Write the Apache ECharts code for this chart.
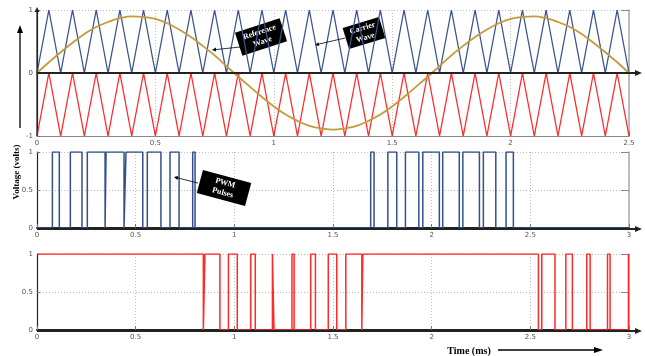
<!DOCTYPE html>
<html>
<head>
<meta charset="utf-8">
<script src="https://cdn.jsdelivr.net/npm/echarts@6/dist/echarts.min.js"></script>
<style>
  html, body { margin: 0; padding: 0; background: #fff; }
  #chart { width: 645px; height: 356px; }
</style>
</head>
<body>
<div id="chart"></div>
<script>
// top panel: carrier + reference waves (time in ms)
var topTime = [0, 0.05, 0.1, 0.15, 0.2, 0.25, 0.3, 0.35, 0.4, 0.45, 0.5, 0.55, 0.6, 0.65, 0.7, 0.75, 0.8, 0.85, 0.9, 0.95,
  1, 1.05, 1.1, 1.15, 1.2, 1.25, 1.3, 1.35, 1.4, 1.45, 1.5, 1.55, 1.6, 1.65, 1.7, 1.75, 1.8, 1.85, 1.9, 1.95,
  2, 2.05, 2.1, 2.15, 2.2, 2.25, 2.3, 2.35, 2.4, 2.45, 2.5];
var carrierUpper = [0, 1, 0, 1, 0, 1, 0, 1, 0, 1, 0, 1, 0, 1, 0, 1, 0, 1, 0, 1, 0, 1, 0, 1, 0, 1,
  0, 1, 0, 1, 0, 1, 0, 1, 0, 1, 0, 1, 0, 1, 0, 1, 0, 1, 0, 1, 0, 1, 0, 1, 0];
var carrierLower = [-1, 0, -1, 0, -1, 0, -1, 0, -1, 0, -1, 0, -1, 0, -1, 0, -1, 0, -1, 0, -1, 0, -1, 0, -1, 0,
  -1, 0, -1, 0, -1, 0, -1, 0, -1, 0, -1, 0, -1, 0, -1, 0, -1, 0, -1, 0, -1, 0, -1, 0, -1];
var referenceWave = [0, 0.17, 0.33, 0.48, 0.62, 0.73, 0.81, 0.87, 0.90, 0.89, 0.86, 0.79, 0.69, 0.57, 0.43, 0.28, 0.11,
  -0.06, -0.22, -0.38, -0.53, -0.66, -0.76, -0.84, -0.88, -0.90, -0.88, -0.84, -0.76, -0.66, -0.53, -0.38, -0.22, -0.06,
  0.11, 0.28, 0.43, 0.57, 0.69, 0.79, 0.86, 0.89, 0.90, 0.87, 0.81, 0.73, 0.62, 0.48, 0.33, 0.17, 0];

// PWM pulses: switching instants (ms) and level after each switch
var pwmUpperTime = [0, 0.078, 0.113, 0.169, 0.228, 0.255, 0.345, 0.350, 0.441, 0.451, 0.536, 0.559, 0.628, 0.674, 0.720,
  0.789, 0.801, 1.691, 1.708, 1.778, 1.823, 1.867, 1.935, 1.955, 2.039, 2.056, 2.140, 2.158, 2.242, 2.262, 2.325,
  2.377, 2.414, 3];
var pwmUpperLevel = [0, 1, 0, 1, 0, 1, 0, 1, 0, 1, 0, 1, 0, 1, 0, 1, 0, 1, 0, 1, 0, 1, 0, 1, 0, 1, 0, 1, 0, 1, 0, 1, 0, 0];
var pwmLowerTime = [0, 0.843, 0.851, 0.927, 0.970, 1.015, 1.083, 1.106, 1.193, 1.201, 1.292, 1.303, 1.387, 1.411, 1.476,
  1.519, 1.565, 1.646, 1.651, 2.541, 2.558, 2.625, 2.680, 2.713, 2.786, 2.803, 2.891, 2.904, 2.997, 3];
var pwmLowerLevel = [1, 0, 1, 0, 1, 0, 1, 0, 1, 0, 1, 0, 1, 0, 1, 0, 1, 0, 1, 0, 1, 0, 1, 0, 1, 0, 1, 0, 1, 1];

var topXTicks = [0, 0.5, 1, 1.5, 2, 2.5];
var topYTicks = [-1, 0, 1];
var pwmXTicks = [0, 0.5, 1, 1.5, 2, 2.5, 3];
var pwmYTicks = [0, 0.5, 1];

function pairs(xs, ys) {
  return xs.map(function (x, i) { return [x, ys[i]]; });
}

var dotted = { show: true, lineStyle: { color: '#bdbdbd', type: [1, 2], width: 1 } };
var labelStyle = { fontSize: 7, color: '#555', fontFamily: 'DejaVu Sans' };

function xAxisFor(grid, max, ticks, lineColor, lineWidth) {
  return {
    gridIndex: grid, type: 'value', min: 0, max: max, interval: 0.5,
    axisLine: { onZero: false, lineStyle: { color: lineColor, width: lineWidth } },
    axisTick: { inside: true, length: 4, customValues: ticks, lineStyle: { color: '#777' } },
    axisLabel: Object.assign({ margin: 4, customValues: ticks, formatter: function (v) { return String(v); } }, labelStyle),
    splitLine: dotted
  };
}
function yAxisFor(grid, min, max, interval, ticks) {
  return {
    gridIndex: grid, type: 'value', min: min, max: max, interval: interval,
    axisLine: { show: true, onZero: false, lineStyle: { color: '#222', width: 1.2 } },
    axisTick: { show: true, inside: true, length: 3, customValues: ticks, lineStyle: { color: '#777' } },
    axisLabel: Object.assign({ margin: 4, customValues: ticks }, labelStyle),
    splitLine: dotted
  };
}
function rightAxisFor(grid, min, max, interval) {
  return {
    gridIndex: grid, type: 'value', position: 'right', min: min, max: max, interval: interval,
    axisLine: { show: true, onZero: false, lineStyle: { color: '#aaa', width: 1.5 } },
    axisTick: { show: true, inside: true, length: 8, lineStyle: { color: '#888' } },
    axisLabel: { show: false },
    splitLine: { show: false }
  };
}

var chart = echarts.init(document.getElementById('chart'), null, { renderer: 'canvas' });

var option = {
  backgroundColor: '#fff',
  animation: false,
  grid: [
    { left: 37, top: 10, width: 592, height: 126 },
    { left: 37, top: 152, width: 592, height: 76 },
    { left: 37, top: 254, width: 592, height: 76 }
  ],
  xAxis: [
    xAxisFor(0, 2.5, topXTicks, '#888', 1.2),
    xAxisFor(1, 3, pwmXTicks, '#222', 2),
    xAxisFor(2, 3, pwmXTicks, '#222', 2)
  ],
  yAxis: [
    yAxisFor(0, -1, 1, 1, topYTicks),
    yAxisFor(1, 0, 1, 0.5, pwmYTicks),
    yAxisFor(2, 0, 1, 0.5, pwmYTicks),
    rightAxisFor(0, -1, 1, 1),
    rightAxisFor(1, 0, 1, 0.5),
    rightAxisFor(2, 0, 1, 0.5)
  ],
  series: [
    {
      name: 'Carrier upper', type: 'line', xAxisIndex: 0, yAxisIndex: 0, showSymbol: false,
      data: pairs(topTime, carrierUpper),
      lineStyle: { color: '#3a5590', width: 1.3 }
    },
    {
      name: 'Carrier lower', type: 'line', xAxisIndex: 0, yAxisIndex: 0, showSymbol: false,
      data: pairs(topTime, carrierLower),
      lineStyle: { color: '#ff2a2a', width: 1.3 }
    },
    {
      name: 'Reference', type: 'line', xAxisIndex: 0, yAxisIndex: 0, showSymbol: false, smooth: 0.4,
      data: pairs(topTime, referenceWave),
      lineStyle: { color: '#c49a3c', width: 1.8 }
    },
    {
      name: 'PWM upper', type: 'line', xAxisIndex: 1, yAxisIndex: 1, showSymbol: false, step: 'end',
      data: pairs(pwmUpperTime, pwmUpperLevel),
      lineStyle: { color: '#34508c', width: 1.5 }
    },
    {
      name: 'PWM lower', type: 'line', xAxisIndex: 2, yAxisIndex: 2, showSymbol: false, step: 'end',
      data: pairs(pwmLowerTime, pwmLowerLevel),
      lineStyle: { color: '#ff2a2a', width: 1.5 }
    }
  ]
};
chart.setOption(option);

// ---- decorations: axis arrows, annotation boxes, titles ----
function px(grid, x, y) {
  return chart.convertToPixel({ gridIndex: grid }, [x, y]);
}
function arrow(x1, y1, x2, y2, width, headLen, headHalf, color) {
  var dx = x2 - x1, dy = y2 - y1, len = Math.sqrt(dx * dx + dy * dy);
  var ux = dx / len, uy = dy / len;
  var bx = x2 - ux * headLen, by = y2 - uy * headLen;
  color = color || '#000';
  return [
    { type: 'polyline', z: 50, shape: { points: [[x1, y1], [bx, by]] }, style: { stroke: color, lineWidth: width } },
    { type: 'polygon', z: 50, shape: { points: [[x2, y2], [bx - uy * headHalf, by + ux * headHalf], [bx + uy * headHalf, by - ux * headHalf]] },
      style: { fill: color } }
  ];
}
function noteBox(cx, cy, w, h, angle, text) {
  return {
    type: 'group', x: cx, y: cy, rotation: angle * Math.PI / 180, z: 60,
    children: [
      { type: 'rect', shape: { x: -w / 2, y: -h / 2, width: w, height: h }, style: { fill: '#000' } },
      { type: 'text', style: { text: text, x: 0, y: 0, align: 'center', verticalAlign: 'middle', fill: '#fff',
        font: 'bold 8px "Liberation Serif"', lineHeight: 10 } }
    ]
  };
}

var g = [];
var z0 = px(0, 0, 0), z1 = px(0, 2.5, 0);
g = g.concat(arrow(z0[0], z0[1], z1[0] + 13, z1[1], 2, 7, 3, '#222'));
var a0 = px(1, 0, 0), a1 = px(1, 3, 0);
g = g.concat(arrow(a0[0], a0[1] + 1, a1[0] + 13, a1[1] + 1, 2, 7, 3, '#222'));
var b0 = px(2, 0, 0), b1 = px(2, 3, 0);
g = g.concat(arrow(b0[0], b0[1] + 1, b1[0] + 13, b1[1] + 1, 2, 7, 3, '#222'));
var ya = px(0, 0, -1), yb = px(0, 0, 1);
g = g.concat(arrow(ya[0], ya[1], yb[0], yb[1] - 3, 1.2, 5, 2.5, '#222'));

// side arrows and axis titles
g = g.concat(arrow(20, 128, 20, 25, 1.3, 8, 3));
g = g.concat(arrow(498, 350, 603, 350, 1.3, 9, 3));
g.push({ type: 'text', z: 60, x: 17, y: 172, rotation: Math.PI / 2,
  style: { text: 'Voltage (volts)', align: 'center', verticalAlign: 'middle', fill: '#000', font: 'bold 9px "Liberation Serif"' } });
g.push({ type: 'text', z: 60, x: 469, y: 351,
  style: { text: 'Time (ms)', align: 'center', verticalAlign: 'middle', fill: '#000', font: 'bold 10px "Liberation Serif"' } });

// annotations
g.push(noteBox(261, 37, 47, 24, 18, 'Reference\nWave'));
g = g.concat(arrow(240, 47, 212, 50, 0.8, 4, 2));
g.push(noteBox(364, 33, 38, 22, 17, 'Carrier\nWave'));
g = g.concat(arrow(345, 38, 315, 45, 0.8, 4, 2));
g.push(noteBox(224, 188, 50, 24, -15, 'PWM\nPulses'));
g = g.concat(arrow(198, 183, 174, 177, 0.8, 4, 2));

chart.setOption({ graphic: g });
</script>
</body>
</html>
